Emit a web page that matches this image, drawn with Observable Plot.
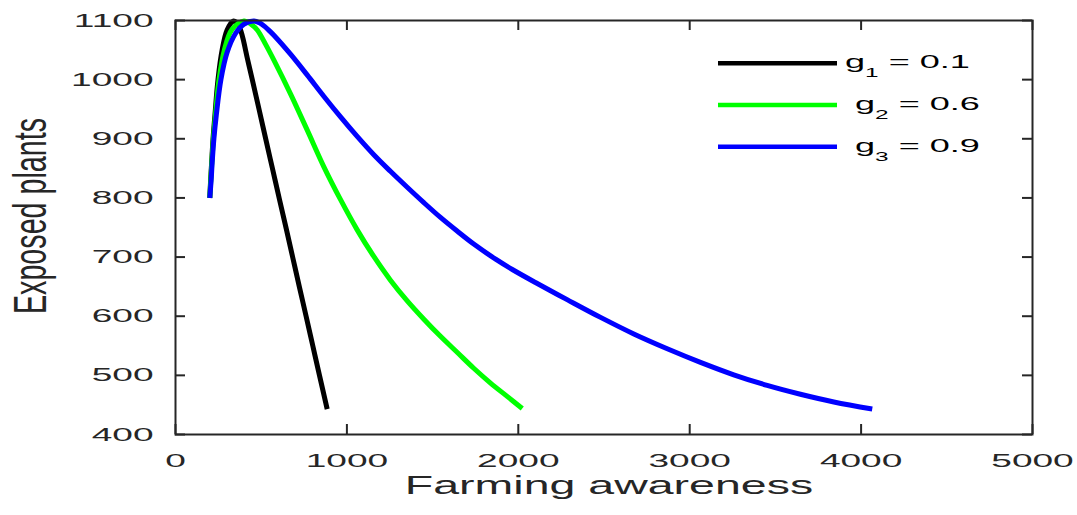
<!DOCTYPE html>
<html>
<head>
<meta charset="utf-8">
<script src="https://cdn.jsdelivr.net/npm/d3@7"></script>
<script src="https://cdn.jsdelivr.net/npm/@observablehq/plot@0.6"></script>
<style>
  html, body { margin: 0; padding: 0; background: #ffffff; }
  #chart { width: 1077px; height: 515px; }
</style>
</head>
<body>
<div id="chart"></div>
<script>
// ---- data ----
const seriesSub = ["1", "2", "3"];
const seriesValue = ["0.1", "0.6", "0.9"];
const seriesColor = ["#000000", "#00ff00", "#0000ff"];

const awarenessG1 = [200, 205, 211, 219, 230, 248, 272, 301, 337, 355, 370, 383, 395, 420, 448, 488, 527, 567, 607, 646, 685, 724, 762, 801, 840, 885];
const exposedG1   = [800, 830, 860, 900, 940, 1000, 1050, 1084, 1099, 1097, 1091, 1081, 1068, 1035, 1000, 949, 899, 848, 797, 748, 698, 648, 600, 550, 500, 443];

const awarenessG2 = [200, 206, 212, 221, 233, 254, 285, 330, 400, 440, 477, 525, 574, 671, 768, 865, 963, 1060, 1157, 1254, 1352, 1449, 1546, 1643, 1740, 1838, 1935, 2023];
const exposedG2   = [800, 830, 860, 900, 940, 1000, 1050, 1085, 1099, 1094, 1084, 1060, 1033, 976, 915, 853, 797, 746, 701, 661, 626, 595, 566, 539, 512, 487, 464.5, 444];

const awarenessG3 = [200, 208, 214, 224, 238, 265, 300, 350, 400, 457, 490, 520, 550, 574, 671, 768, 865, 963, 1060, 1157, 1254, 1352, 1449, 1546, 1643, 1740, 1870, 1965, 2100, 2285, 2480, 2674, 2869, 3063, 3257, 3452, 3646, 3841, 4065];
const exposedG3   = [800, 830, 860, 900, 940, 1000, 1045, 1078, 1094, 1099, 1096, 1090, 1082, 1075, 1043, 1008, 972, 937, 904, 873, 845, 818, 792, 767, 744, 722, 696, 679, 657, 628, 598, 570, 545, 522, 501, 483, 468, 455, 443];

const xTicks = [0, 1000, 2000, 3000, 4000, 5000];
const yTicks = [400, 500, 600, 700, 800, 900, 1000, 1100];
const xLabel = "Farming awareness";
const yLabel = "Exposed plants";

// ---- layout ----
const W = 1077, H = 515;
const mL = 175, mR = 45, mT = 20, mB = 81;
const pw = W - mL - mR, ph = H - mT - mB;
const axisColor = "#262626";
const tickLen = 10;
const fontFam = "'Liberation Sans', Arial, Helvetica, sans-serif";

const seriesX = [awarenessG1, awarenessG2, awarenessG3];
const seriesY = [exposedG1, exposedG2, exposedG3];

const lineMarks = seriesX.map((xs, s) =>
  Plot.line(xs.map((x, i) => ({x, y: seriesY[s][i]})), {
    x: "x", y: "y",
    stroke: seriesColor[s], strokeWidth: 5,
    strokeLinecap: "butt", strokeLinejoin: "round",
    curve: "catmull-rom"
  })
);

const svg = Plot.plot({
  width: W, height: H,
  marginLeft: mL, marginRight: mR, marginTop: mT, marginBottom: mB,
  x: {domain: [0, 5000]},
  y: {domain: [400, 1100]},
  style: {
    fontFamily: fontFam,
    fontSize: "19px",
    color: axisColor,
    background: "#ffffff",
    overflow: "visible"
  },
  marks: [
    ...lineMarks,
    Plot.frame({stroke: axisColor, strokeWidth: 2}),
    Plot.tickY(yTicks, {y: d => d, insetRight: pw - tickLen, stroke: axisColor, strokeWidth: 2}),
    Plot.tickY(yTicks, {y: d => d, insetLeft: pw - tickLen, stroke: axisColor, strokeWidth: 2}),
    Plot.tickX(xTicks, {x: d => d, insetTop: ph - tickLen, stroke: axisColor, strokeWidth: 2}),
    Plot.tickX(xTicks, {x: d => d, insetBottom: ph - tickLen, stroke: axisColor, strokeWidth: 2}),
    Plot.axisX({ticks: xTicks, tickSize: 0, tickPadding: 19, tickFormat: d3.format("d"), label: null, fill: axisColor, fontSize: 19}),
    Plot.axisY({ticks: yTicks, tickSize: 0, tickPadding: 22, tickFormat: d3.format("d"), label: null, fill: axisColor, fontSize: 19}),
    Plot.text([xLabel], {text: d => d, frameAnchor: "bottom", dx: 5, dy: 59, lineAnchor: "bottom", textAnchor: "middle", fontSize: 25, fill: axisColor}),
    Plot.text([yLabel], {text: d => d, frameAnchor: "left", rotate: -90, dx: -130, dy: -11.5, lineAnchor: "bottom", textAnchor: "middle", fontSize: 28.7, fill: axisColor})
  ]
});

// horizontal stretch of the lettering (the reference is drawn wide)
function stretch(el, sx, sy) {
  let t = el.getAttribute("transform");
  if (!t) {
    const x = el.getAttribute("x") || 0, y = el.getAttribute("y") || 0;
    el.removeAttribute("x"); el.removeAttribute("y");
    t = `translate(${x},${y})`;
  }
  el.setAttribute("transform", `${t} scale(${sx},${sy})`);
}
svg.querySelectorAll("text").forEach(el => {
  const s = el.textContent;
  if (s === yLabel) stretch(el, 1, 1.62);
  else if (s === xLabel) stretch(el, 1.86, 1);
  else stretch(el, 1.95, 1);
});

// legend (inside the axes, upper right)
const legend = d3.select(svg).append("g").attr("class", "legend").attr("text-anchor", "start");
const legendLineY = [63.3, 105, 146.7];
const legendTextX = [845, 855, 855];
seriesColor.forEach((c, i) => {
  legend.append("line")
    .attr("x1", 718).attr("x2", 837)
    .attr("y1", legendLineY[i]).attr("y2", legendLineY[i])
    .attr("stroke", c).attr("stroke-width", 4.5);
  const t = legend.append("text")
    .attr("transform", `translate(${legendTextX[i]},${legendLineY[i] + 5}) scale(1.95,1)`)
    .attr("text-anchor", "start")
    .attr("fill", "#000000")
    .attr("font-family", fontFam)
    .attr("font-size", 18.5)
    .style("white-space", "pre");
  t.append("tspan").text("g");
  t.append("tspan").attr("font-size", 12.5).attr("dy", 9).text(seriesSub[i]);
  t.append("tspan").attr("dy", -9).text(" = " + seriesValue[i]);
});

document.getElementById("chart").appendChild(svg);
</script>
</body>
</html>
